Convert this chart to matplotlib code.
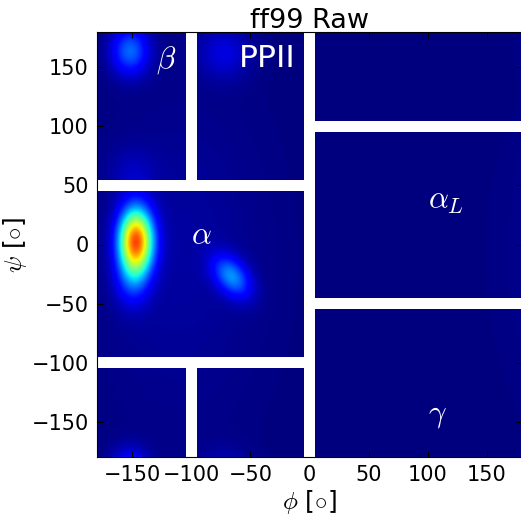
import numpy as np
import matplotlib
matplotlib.use('Agg')
import matplotlib.pyplot as plt
from matplotlib.patches import Rectangle

plt.rcParams['mathtext.fontset'] = 'cm'
plt.rcParams['font.family'] = 'DejaVu Sans'

# density peaks on the (phi, psi) map in degrees, heights relative to colour max
peak_phi = [-147, -150, -66, -152, -72, -150, -110]
peak_psi = [3, -30, -27, 164, 162, 62, -10]
peak_sig_phi = [10, 10, 14, 11, 15, 14, 50]
peak_sig_psi = [19, 16, 9, 14, 15, 14, 90]
peak_tilt = [0, 0, -52, 0, 0, 0, 0]  # rotation of the (sig_phi, sig_psi) axes
peak_height = [0.80, 0.13, 0.25, 0.22, 0.08, 0.04, 0.03]

# region boundaries (white bands)
vband_phi = [0, -100, -100]
vband_lo = [-180, 50, -180]
vband_hi = [180, 180, -100]
hband_psi = [50, -100, 100, -50]
hband_lo = [-180, -180, 0, 0]
hband_hi = [0, 0, 180, 180]
band_width = 10

region_names = [r'$\beta$', 'PPII', r'$\alpha$', r'$\alpha_L$', r'$\gamma$']
region_phi = [-130, -60, -100, 100, 100]
region_psi = [150, 150, 0, 30, -150]


def density_map(phi, psi):
    z = np.zeros_like(phi)
    for p0, s0, sp, ss, t, h in zip(peak_phi, peak_psi, peak_sig_phi,
                                    peak_sig_psi, peak_tilt, peak_height):
        th = np.radians(t)
        for dx in (-360, 0, 360):
            for dy in (-360, 0, 360):
                a = phi - (p0 + dx)
                b = psi - (s0 + dy)
                u = np.cos(th) * a + np.sin(th) * b
                v = -np.sin(th) * a + np.cos(th) * b
                z += h * np.exp(-0.5 * ((u / sp) ** 2 + (v / ss) ** 2))
    return z


edges = np.arange(-180, 181, 1.0)
centres = 0.5 * (edges[1:] + edges[:-1])
PHI, PSI = np.meshgrid(centres, centres)
Z = density_map(PHI, PSI)

fig = plt.figure(figsize=(5.21, 5.20), dpi=100)
ax = fig.add_axes([97 / 521, 1 - 457 / 520, 425 / 521, 425 / 520])
ax.imshow(Z, cmap='jet', vmin=0, vmax=1, origin='lower',
          extent=[-180, 180, -180, 180], aspect='auto',
          interpolation='bilinear')

for x, lo, hi in zip(vband_phi, vband_lo, vband_hi):
    ax.add_patch(Rectangle((x - band_width / 2, lo), band_width, hi - lo,
                           facecolor='white', edgecolor='none', zorder=2))
for y, lo, hi in zip(hband_psi, hband_lo, hband_hi):
    ax.add_patch(Rectangle((lo, y - band_width / 2), hi - lo, band_width,
                           facecolor='white', edgecolor='none', zorder=2))

for name, x, y in zip(region_names, region_phi, region_psi):
    ax.text(x, y, name, color='white', fontsize=22.5, ha='left',
            va='baseline', zorder=3)

ax.set_xlim(-180, 180)
ax.set_ylim(-180, 180)
ax.set_xticks(np.arange(-150, 151, 50))
ax.set_yticks(np.arange(-150, 151, 50))
ax.tick_params(direction='in', top=True, right=True, length=4,
               labelsize=15, pad=6, zorder=5)
for s in ax.spines.values():
    s.set_zorder(5)
ax.set_xlabel(r'$\phi$ [$\circ$]', fontsize=18, labelpad=2)
ax.set_ylabel(r'$\psi$ [$\circ$]', fontsize=18, labelpad=2)
ax.set_title('ff99 Raw', fontsize=19.5, pad=3)

fig.savefig('out.png', dpi=100)
